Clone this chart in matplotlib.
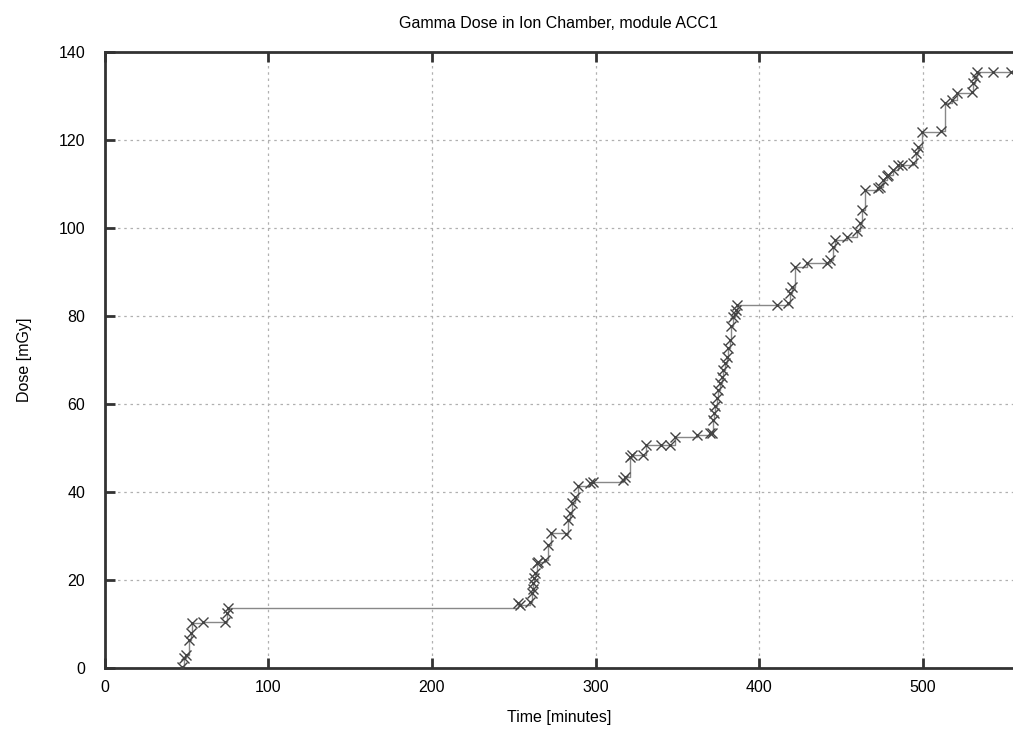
import numpy as np
import matplotlib
matplotlib.use("Agg")
import matplotlib.pyplot as plt

plt.rcParams['font.family'] = ['Liberation Sans', 'DejaVu Sans']

# time [min] and accumulated dose [mGy]
t = [47.2, 48.6, 49.8, 51.8, 52.6, 53.2, 60.4, 73.6, 74.6, 75.2,
     252.8, 254.0, 260.0, 261.0, 261.5, 262.0, 262.5, 263.0, 264.0, 265.0, 269.0,
     271.0, 273.0, 282.0, 283.3, 284.4, 285.4, 287.4, 289.4, 296.6, 298.6,
     317.0, 318.0, 321.0, 322.0, 328.7, 331.0, 340.0, 345.4, 348.5, 361.7,
     369.9, 371.0, 372.0, 372.5, 373.0, 374.0, 375.0, 376.0, 377.0, 378.0, 379.0,
     380.0, 381.0, 382.0, 383.0, 384.0, 385.0, 385.7, 386.6,
     410.6, 417.7, 418.7, 419.8, 421.8, 429.0, 441.2, 443.2, 445.2, 446.2,
     453.4, 459.5, 461.5, 462.5, 464.6, 472.7, 473.7, 475.7, 477.8, 478.8,
     481.8, 484.9, 487.0, 494.0, 496.0, 497.0, 499.2, 511.0, 513.4, 517.5,
     520.6, 529.7, 530.7, 531.8, 532.8, 543.0, 554.0]
dose = [0.1, 2.1, 2.9, 6.3, 7.8, 10.1, 10.5, 10.5, 12.4, 13.5,
        14.6, 14.2, 15.0, 16.9, 18.0, 19.2, 20.3, 21.5, 23.7, 24.1, 24.5,
        27.9, 30.6, 30.4, 33.6, 35.1, 37.4, 38.9, 41.2, 41.9, 42.3,
        42.7, 43.4, 48.0, 48.4, 48.4, 50.6, 50.6, 50.6, 52.5, 52.9,
        53.3, 53.3, 56.3, 57.8, 59.4, 61.3, 63.2, 64.7, 66.2, 67.7, 69.2,
        70.7, 72.6, 74.5, 77.6, 79.8, 80.5, 81.3, 82.5,
        82.5, 82.9, 85.1, 86.6, 91.2, 92.0, 92.0, 92.7, 95.7, 97.3,
        98.0, 99.2, 101.1, 104.1, 108.6, 109.0, 109.4, 110.9, 111.7, 112.0,
        113.2, 114.3, 114.3, 114.7, 117.0, 118.5, 121.9, 122.0, 128.4, 129.1,
        130.6, 130.8, 132.9, 134.4, 135.5, 135.5, 135.5]

fig = plt.figure(figsize=(10.13, 7.31), dpi=100)
ax = fig.add_axes([0.1032, 0.0866, 0.8968, 0.8423])

ax.plot(t, dose, '-', color='#888888', lw=1.0, drawstyle='steps-post', zorder=2)
ax.plot(t, dose, 'x', color='#444444', ms=7, mew=1.0, zorder=3)

ax.set_xlim(0, 555)
ax.set_ylim(0, 140)
ax.set_xticks(np.arange(0, 501, 100))
ax.set_yticks(np.arange(0, 141, 20))

ax.grid(True, color='#b0b0b0', lw=0.9, ls=(0, (2, 3)))
ax.set_axisbelow(True)

for side in ['left', 'bottom', 'top']:
    ax.spines[side].set_linewidth(2.0)
    ax.spines[side].set_color('#333333')
ax.spines['right'].set_visible(False)
ax.tick_params(direction='in', length=7, width=2, color='#333333',
               top=True, labelsize=11.5)
ax.tick_params(axis='x', pad=9)
ax.tick_params(axis='y', pad=14)

ax.set_xlabel('Time [minutes]', fontsize=11.5, labelpad=11)
ax.set_ylabel('Dose [mGy]', fontsize=11.5, labelpad=19)
ax.set_title('Gamma Dose in Ion Chamber, module ACC1', fontsize=11.5, pad=17)

fig.savefig('out.png', dpi=100)
